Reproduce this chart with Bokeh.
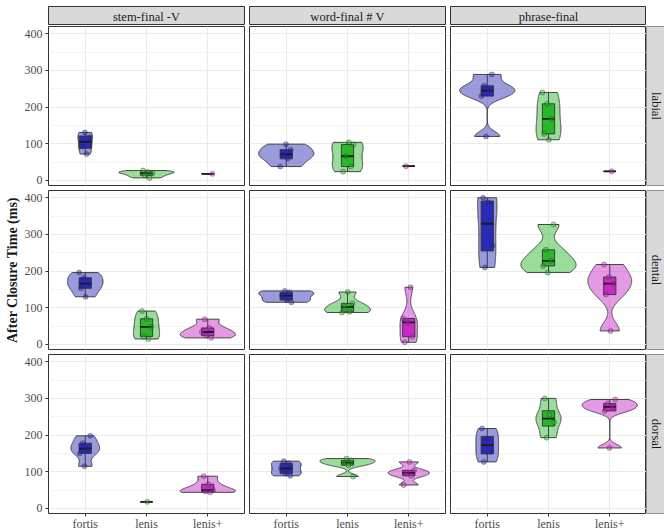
import numpy as np
from bokeh.plotting import figure
from bokeh.layouts import column, row
from bokeh.models import FixedTicker, Range1d, Span, Spacer
from bokeh.core.properties import value
from bokeh.embed import file_html
from bokeh.resources import INLINE

# ---- data -----------------------------------------------------------------
categories = ["fortis", "lenis", "lenis+"]
contexts = ["stem-final -V", "word-final # V", "phrase-final"]
places = ["labial", "dental", "dorsal"]

# after-closure durations in ms, per context: [fortis, lenis, lenis+]
labial = [
    [[72, 93, 118, 131], [7, 14, 20, 23, 27], [18]],
    [[38, 59, 71, 84, 99], [24, 38, 66, 98, 104], [39]],
    [[120, 230, 245, 258, 289], [111, 127, 168, 209, 240], [25]],
]
dental = [
    [[130, 153, 166, 182, 196], [15, 22, 48, 70, 91], [18, 24, 34, 45, 69]],
    [[115, 121, 133, 142, 146], [87, 89, 102, 112, 143], [6, 21, 60, 71, 156]],
    [[210, 270, 388, 400], [196, 214, 228, 258, 327], [37, 136, 166, 184, 218]],
]
dorsal = [
    [[115, 150, 163, 178, 198], [18], [44, 46, 50, 66, 88]],
    [[89, 95, 109, 123, 129], [87, 118, 125, 131, 136], [64, 89, 97, 104, 127]],
    [[127, 156, 189, 218], [193, 235, 255, 300], [165, 266, 277, 286, 297]],
]
y_ticks = [0, 100, 200, 300, 400]
y_minor_ticks = [50, 150, 250, 350]

data = {"labial": labial, "dental": dental, "dorsal": dorsal}

# ---- styling ----------------------------------------------------------------
colors = {"fortis": "#1e1eb4", "lenis": "#1eb41e", "lenis+": "#c31ec3"}
FONT_NAME = "Liberation Serif"
FONT = value(FONT_NAME)
DARK = "#333333"
FRAME_W, FRAME_H = 196, 159

# shared y range: data extent expanded by 5 % on each side
all_vals = np.concatenate([np.asarray(g, float) for p in places for c in data[p] for g in c])
span_ = all_vals.max() - all_vals.min()
y_lo, y_hi = all_vals.min() - 0.05 * span_, all_vals.max() + 0.05 * span_


def bw_nrd0(x):
    n = len(x)
    hi = x.std(ddof=1)
    q1, q3 = np.percentile(x, [25, 75])
    lo = min(hi, (q3 - q1) / 1.34)
    if lo == 0:
        lo = hi if hi else (abs(x[0]) if x[0] else 1.0)
    return 0.9 * lo * n ** -0.2


def kde(x, grid):
    bw = bw_nrd0(x)
    z = (grid[:, None] - x[None, :]) / bw
    return np.exp(-0.5 * z * z).sum(axis=1) / (len(x) * bw * np.sqrt(2 * np.pi))


def borders(r, c):
    return dict(
        min_border_left=48 if c == 0 else 3,
        min_border_right=2 if c < 2 else 0,
        min_border_top=1 if r == 0 else 3,
        min_border_bottom=16 if r == 2 else 2,
    )


def style_axis(ax):
    ax.axis_line_color = None
    ax.major_tick_line_color = DARK
    ax.major_tick_out = 3
    ax.major_tick_in = 0
    ax.minor_tick_line_color = None
    ax.major_label_text_font = FONT_NAME
    ax.major_label_text_font_size = "12px"
    ax.major_label_text_color = "#4d4d4d"


def make_panel(r, c):
    place = places[r]
    groups = data[place][c]
    p = figure(frame_width=FRAME_W, frame_height=FRAME_H,
               x_range=Range1d(0.4, 3.6), y_range=Range1d(y_lo, y_hi),
               x_axis_location="below" if r == 2 else None,
               y_axis_location="left" if c == 0 else None,
               output_backend="svg", toolbar_location=None, tools="",
               **borders(r, c))
    p.background_fill_color = "white"
    p.border_fill_color = "white"
    p.outline_line_color = DARK
    p.outline_line_width = 1

    p.xgrid.ticker = FixedTicker(ticks=[1, 2, 3])
    p.ygrid.ticker = FixedTicker(ticks=y_ticks, minor_ticks=y_minor_ticks)
    p.xgrid.grid_line_color = "#ebebeb"
    p.ygrid.grid_line_color = "#ebebeb"
    p.xgrid.grid_line_width = 1
    p.ygrid.grid_line_width = 1
    p.ygrid.minor_grid_line_color = "#ededed"
    p.ygrid.minor_grid_line_width = 0.6

    if c == 0:
        ax = p.yaxis[0]
        ax.ticker = FixedTicker(ticks=y_ticks, minor_ticks=y_minor_ticks)
        style_axis(ax)
        ax.major_label_standoff = 2
        if r == 1:
            ax.axis_label = "After Closure Time (ms)"
            ax.axis_label_text_font = FONT_NAME
            ax.axis_label_text_font_style = "bold"
            ax.axis_label_text_font_size = "14px"
            ax.axis_label_text_color = "#1a1a1a"
            ax.axis_label_standoff = 2
    if r == 2:
        ax = p.xaxis[0]
        ax.ticker = FixedTicker(ticks=[1, 2, 3])
        ax.major_label_overrides = {i + 1: cat for i, cat in enumerate(categories)}
        style_axis(ax)
        ax.major_label_standoff = 0

    # violins (area-scaled within the panel, trimmed to the data range)
    dens = {}
    for k, vals in enumerate(groups):
        v = np.asarray(vals, float)
        if len(v) >= 2:
            grid = np.linspace(v.min(), v.max(), 512)
            dens[k] = (grid, kde(v, grid))
    dmax = max(d.max() for _, d in dens.values()) if dens else 1.0
    for k, (grid, d) in dens.items():
        half = 0.45 * d / dmax
        xs = np.concatenate([k + 1 - half, (k + 1 + half)[::-1]])
        ys = np.concatenate([grid, grid[::-1]])
        p.patch(xs, ys, fill_color=colors[categories[k]], fill_alpha=0.45,
                line_color=DARK, line_width=0.9)

    # boxplots
    for k, vals in enumerate(groups):
        v = np.asarray(vals, float)
        x = k + 1
        q1, med, q3 = np.percentile(v, [25, 50, 75])
        iqr = q3 - q1
        lo_w = v[v >= q1 - 1.5 * iqr].min()
        hi_w = v[v <= q3 + 1.5 * iqr].max()
        p.segment(x0=[x, x], y0=[q3, q1], x1=[x, x], y1=[hi_w, lo_w],
                  line_color=DARK, line_width=0.9)
        p.quad(left=[x - 0.1], right=[x + 0.1], bottom=[q1], top=[q3],
               fill_color=colors[categories[k]], fill_alpha=0.9,
               line_color=DARK, line_width=0.9)
        p.segment(x0=[x - 0.1], y0=[med], x1=[x + 0.1], y1=[med],
                  line_color="#1a1a1a", line_width=1.8)

    # jittered observations (deterministic low-discrepancy horizontal spread)
    for k, vals in enumerate(groups):
        v = np.asarray(vals, float)
        idx = np.arange(1, len(v) + 1)
        jit = ((idx * 0.6180339887 + 0.13 * (k + 3 * c + 7 * r)) % 1.0 - 0.5) * 0.2
        p.scatter(k + 1 + jit, v, size=5, fill_color=colors[categories[k]],
                  fill_alpha=0.4, line_color=DARK, line_alpha=0.5, line_width=0.8)
    return p


def top_strip(c):
    b = borders(0, c)
    p = figure(frame_width=FRAME_W, frame_height=19,
               x_range=Range1d(0, 1), y_range=Range1d(0, 1),
               x_axis_location=None, y_axis_location=None,
               output_backend="svg", toolbar_location=None, tools="",
               min_border_left=b["min_border_left"], min_border_right=b["min_border_right"],
               min_border_top=6, min_border_bottom=0)
    p.grid.visible = False
    p.background_fill_color = "#d9d9d9"
    p.border_fill_color = "white"
    p.outline_line_color = DARK
    p.text(x=[0.5], y=[0.47], text=[contexts[c]], text_align="center",
           text_baseline="middle", text_font=FONT, text_font_size="12.5px",
           text_color="#1a1a1a")
    return p


def right_strip(r):
    b = borders(r, 2)
    p = figure(frame_width=18, frame_height=FRAME_H,
               x_range=Range1d(0, 1), y_range=Range1d(0, 1),
               x_axis_location=None, y_axis_location=None,
               output_backend="svg", toolbar_location=None, tools="",
               min_border_left=0, min_border_right=0,
               min_border_top=b["min_border_top"], min_border_bottom=b["min_border_bottom"])
    p.grid.visible = False
    p.background_fill_color = "#d9d9d9"
    p.border_fill_color = "white"
    p.outline_line_color = None
    for loc, dim in ((0, "height"), (0, "width"), (1, "width")):
        p.add_layout(Span(location=loc, dimension=dim, line_color=DARK, line_width=1))
    p.text(x=[0.55], y=[0.5], text=[places[r]], angle=-np.pi / 2, text_align="center",
           text_baseline="middle", text_font=FONT, text_font_size="12.5px",
           text_color="#1a1a1a")
    return p


rows = [row(*[top_strip(c) for c in range(3)], Spacer(width=18, height=25))]
for r in range(3):
    rows.append(row(*[make_panel(r, c) for c in range(3)], right_strip(r)))
layout = column(*rows)

open("out.html", "w").write(file_html(layout, INLINE))
